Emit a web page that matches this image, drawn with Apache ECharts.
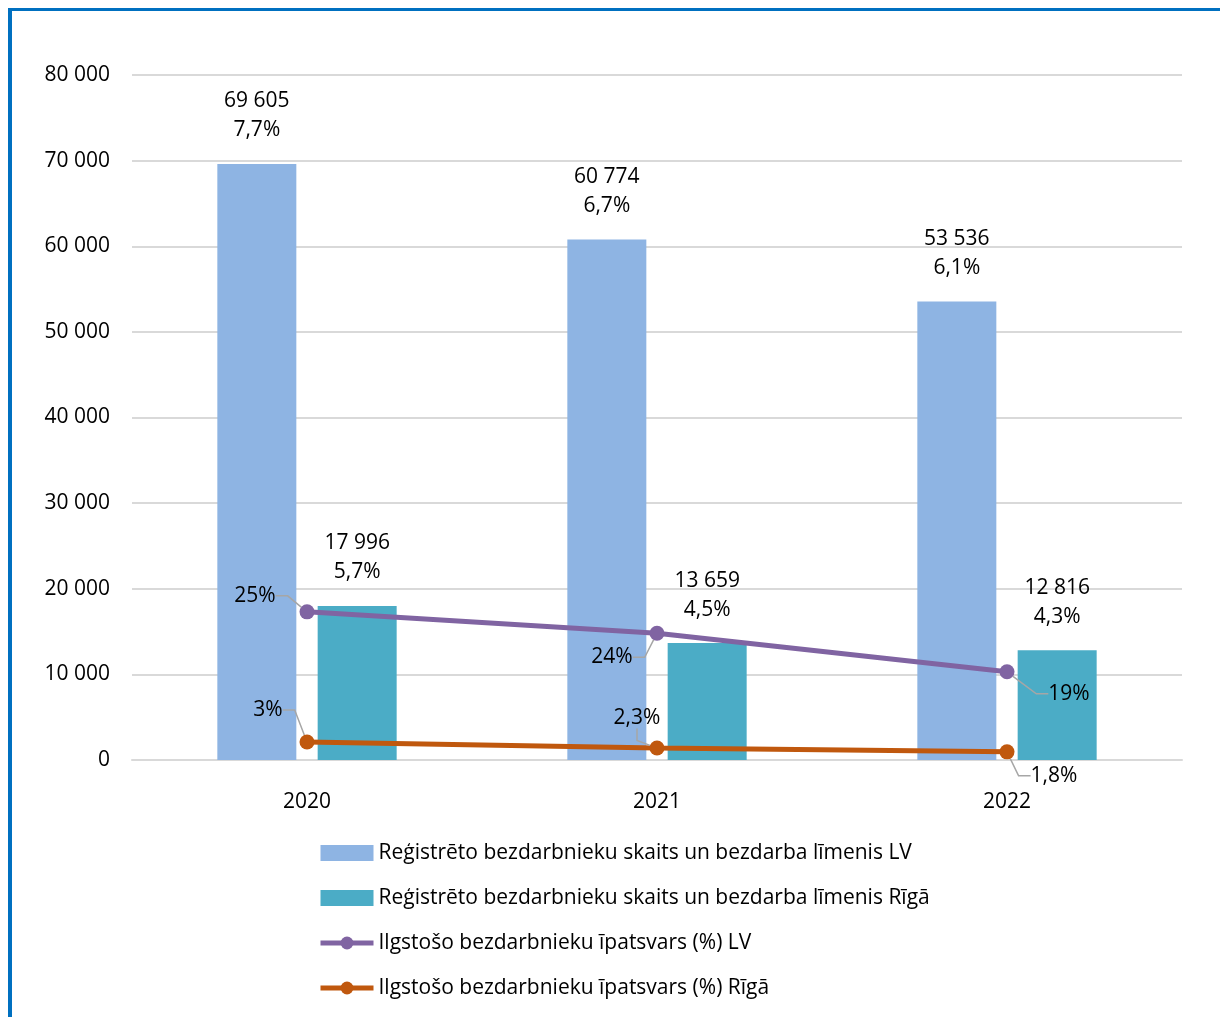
<!DOCTYPE html>
<html><head><meta charset="utf-8">
<script src="https://cdn.jsdelivr.net/npm/echarts@6/dist/echarts.min.js"></script>
<style>html,body{margin:0;padding:0;background:#fff}#c{width:1220px;height:1017px}</style>
</head><body><div id="c"></div>
<script>
const years = ['2020', '2021', '2022'];
const yTicks = [0, 10000, 20000, 30000, 40000, 50000, 60000, 70000, 80000];
const lvCount = [69605, 60774, 53536];
const lvRate = ['7,7%', '6,7%', '6,1%'];
const rigaCount = [17996, 13659, 12816];
const rigaRate = ['5,7%', '4,5%', '4,3%'];
const longLvValue = [17300, 14800, 10300];
const longLvLabel = ['25%', '24%', '19%'];
const longRigaValue = [2100, 1400, 950];
const longRigaLabel = ['3%', '2,3%', '1,8%'];
const seriesNames = [
  'Reģistrēto bezdarbnieku skaits un bezdarba līmenis LV',
  'Reģistrēto bezdarbnieku skaits un bezdarba līmenis Rīgā',
  'Ilgstošo bezdarbnieku īpatsvars (%) LV',
  'Ilgstošo bezdarbnieku īpatsvars (%) Rīgā'
];

const FONT = 'Open Sans';
const FS = 21;
const fmt = v => String(v).replace(/\B(?=(\d{3})+(?!\d))/g, ' ');
// label offsets (px) relative to the point, per series
const offLv = [[-52, -16], [-45, 24], [62, 22]];
const offRiga = [[-39, -32], [-20, -30], [47, 24]];

const chart = echarts.init(document.getElementById('c'));
const barLabel = rates => ({
  show: true, position: 'top', distance: 19,
  fontFamily: FONT, fontSize: FS, lineHeight: 29, color: '#000',
  formatter: p => fmt(p.value) + '\n' + rates[p.dataIndex]
});
const lineLabel = (labels) => ({
  show: true, position: 'inside',
  fontFamily: FONT, fontSize: FS, color: '#000',
  formatter: p => labels[p.dataIndex]
});
const layoutFor = offs => params => {
  const o = offs[params.dataIndex];
  const cx = params.rect.x + params.rect.width / 2;
  const cy = params.rect.y + params.rect.height / 2;
  return { x: cx + o[0], y: cy + o[1], align: 'center', verticalAlign: 'middle' };
};

chart.setOption({
  animation: false,
  graphic: [
    { type: 'rect', shape: { x: 8, y: 8, width: 4, height: 1017 }, style: { fill: '#0070C0' } },
    { type: 'rect', shape: { x: 8, y: 8, width: 1220, height: 3 }, style: { fill: '#0070C0' } }
  ],
  grid: { left: 132, right: 38, top: 75, bottom: 257 },
  legend: {
    orient: 'vertical', left: 313, top: 836, itemGap: 21,
    itemWidth: 53, itemHeight: 16,
    textStyle: { fontFamily: FONT, fontSize: FS, color: '#000', lineHeight: 24 },
    data: [
      { name: seriesNames[0], icon: 'rect', itemStyle: { color: '#8EB4E3' } },
      { name: seriesNames[1], icon: 'rect', itemStyle: { color: '#4BACC6' } },
      { name: seriesNames[2], lineStyle: { width: 5, color: '#8064A2' } },
      { name: seriesNames[3], lineStyle: { width: 5, color: '#C0580E' } }
    ]
  },
  xAxis: {
    type: 'category', data: years,
    axisLine: { lineStyle: { color: '#D9D9D9', width: 2 } },
    axisTick: { show: false },
    axisLabel: { fontFamily: FONT, fontSize: FS, color: '#000', margin: 32 }
  },
  yAxis: {
    type: 'value', min: yTicks[0], max: yTicks[yTicks.length - 1], interval: yTicks[1] - yTicks[0],
    axisLine: { show: false }, axisTick: { show: false },
    splitLine: { lineStyle: { color: '#D9D9D9', width: 2 } },
    axisLabel: { fontFamily: FONT, fontSize: FS, color: '#000', margin: 22, formatter: v => fmt(v) }
  },
  series: [
    { name: seriesNames[0], type: 'bar', data: lvCount, barWidth: 79, barGap: '27%',
      itemStyle: { color: '#8EB4E3' }, label: barLabel(lvRate) },
    { name: seriesNames[1], type: 'bar', data: rigaCount, barWidth: 79, barGap: '27%',
      itemStyle: { color: '#4BACC6' }, label: barLabel(rigaRate) },
    { name: seriesNames[2], type: 'line', data: longLvValue, symbol: 'circle', symbolSize: 15,
      lineStyle: { color: '#8064A2', width: 5 }, itemStyle: { color: '#8064A2' },
      label: lineLabel(longLvLabel),
      labelLine: { show: true, lineStyle: { color: '#A6A6A6', width: 1.5 }, length2: 12 },
      labelLayout: layoutFor(offLv) },
    { name: seriesNames[3], type: 'line', data: longRigaValue, symbol: 'circle', symbolSize: 15,
      lineStyle: { color: '#C0580E', width: 5 }, itemStyle: { color: '#C0580E' },
      label: lineLabel(longRigaLabel),
      labelLine: { show: true, lineStyle: { color: '#A6A6A6', width: 1.5 }, length2: 12 },
      labelLayout: layoutFor(offRiga) }
  ]
});
</script></body></html>
